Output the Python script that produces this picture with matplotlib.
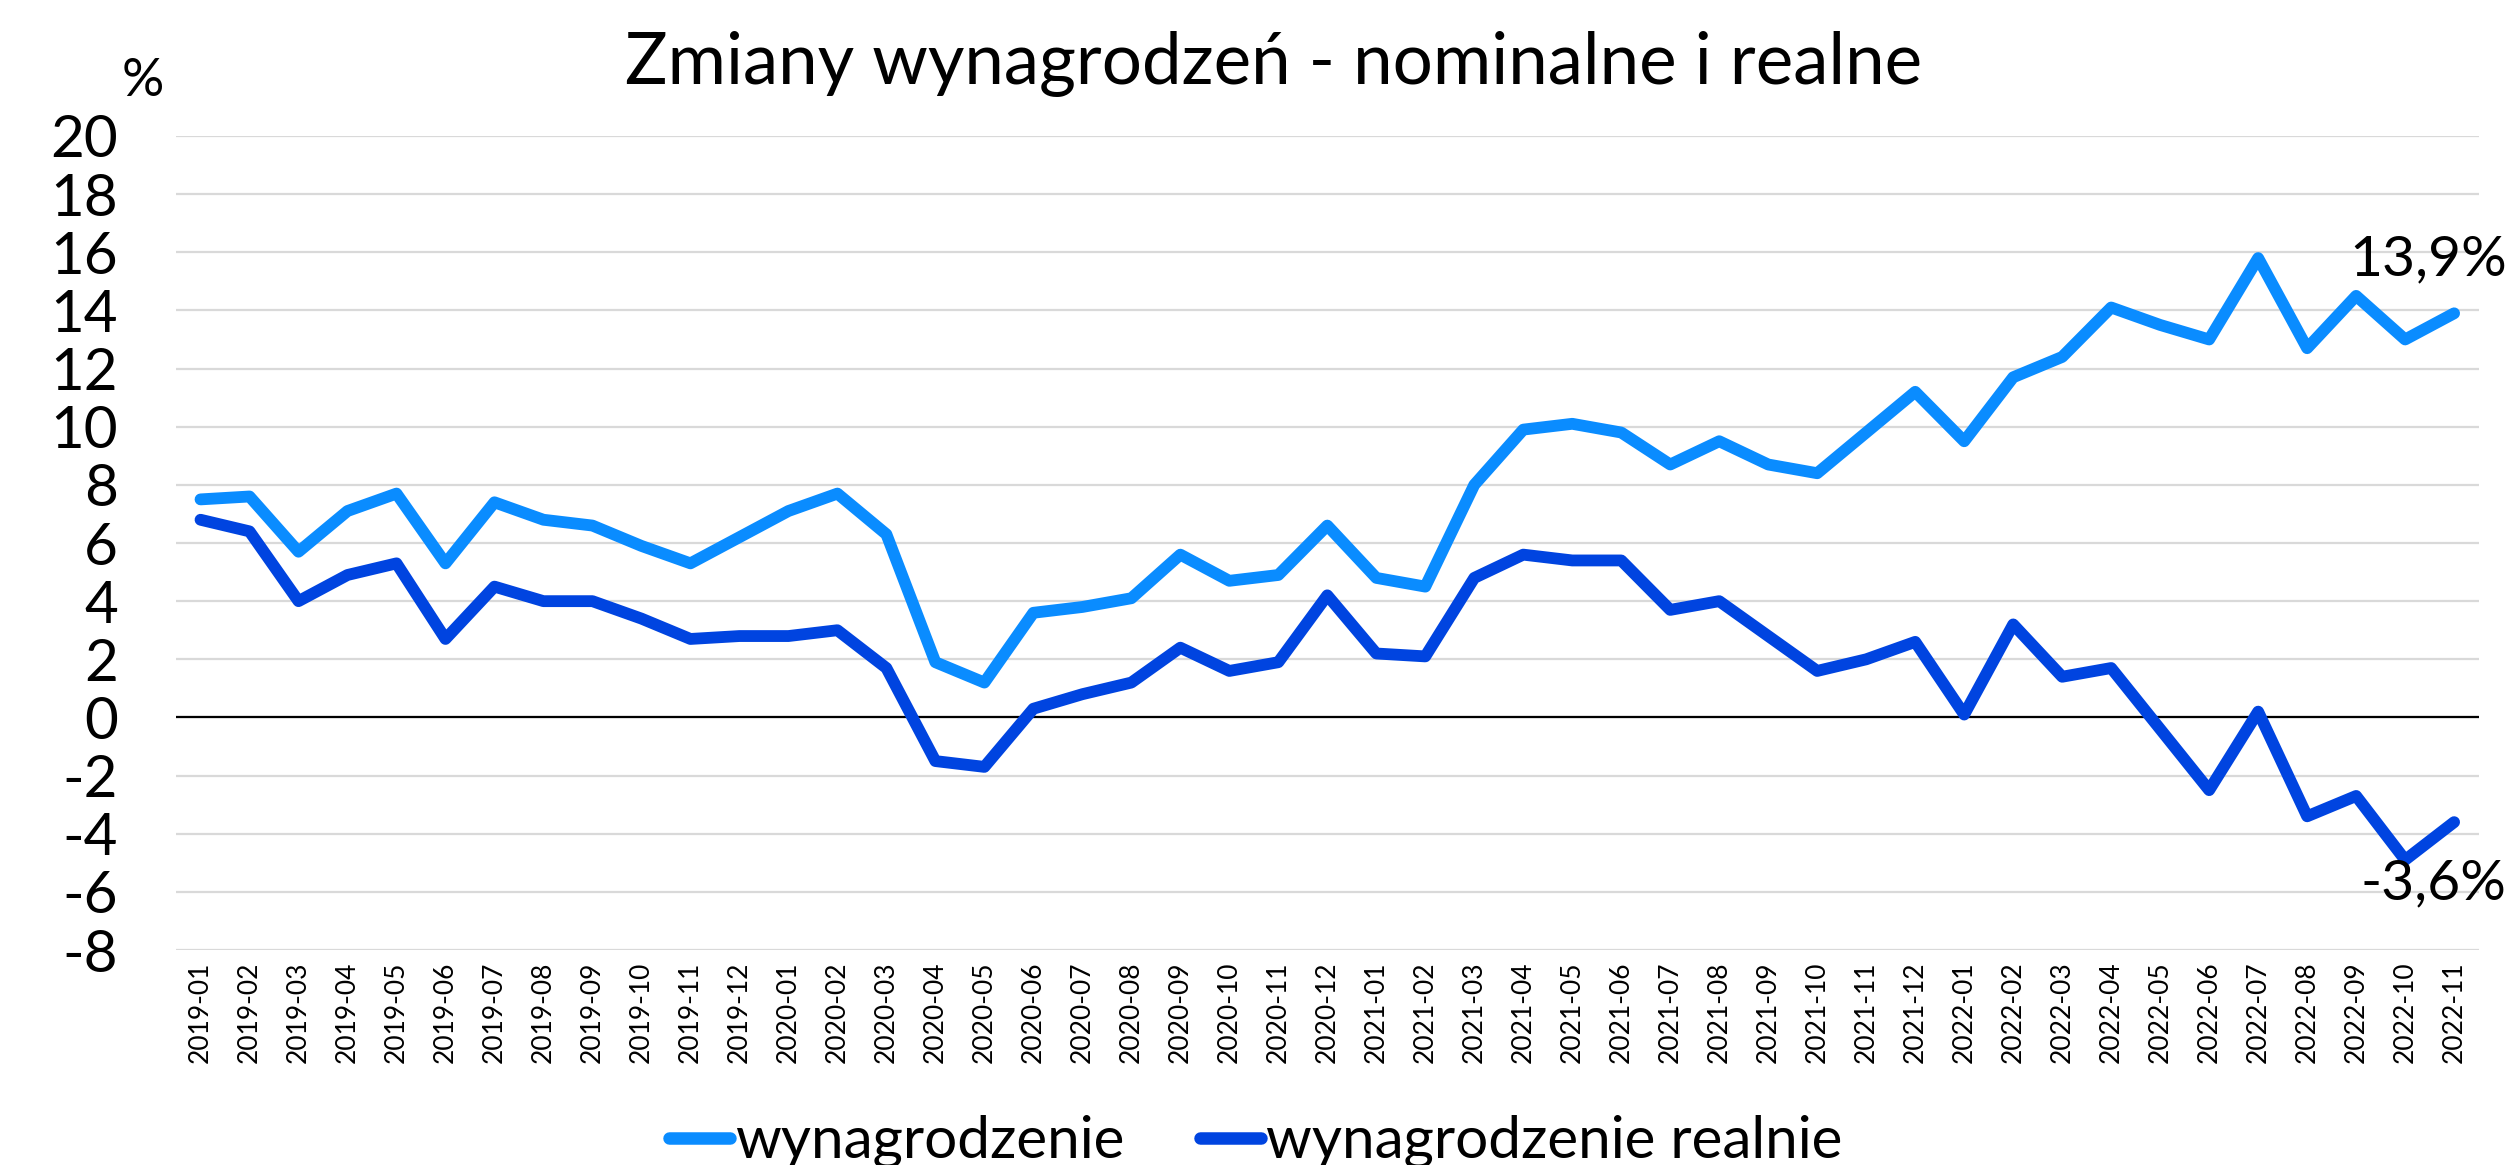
import matplotlib
matplotlib.use("Agg")
import matplotlib.pyplot as plt

# Dane (r/r, %)
MONTHS = [
    "2019-01", "2019-02", "2019-03", "2019-04", "2019-05", "2019-06",
    "2019-07", "2019-08", "2019-09", "2019-10", "2019-11", "2019-12",
    "2020-01", "2020-02", "2020-03", "2020-04", "2020-05", "2020-06",
    "2020-07", "2020-08", "2020-09", "2020-10", "2020-11", "2020-12",
    "2021-01", "2021-02", "2021-03", "2021-04", "2021-05", "2021-06",
    "2021-07", "2021-08", "2021-09", "2021-10", "2021-11", "2021-12",
    "2022-01", "2022-02", "2022-03", "2022-04", "2022-05", "2022-06",
    "2022-07", "2022-08", "2022-09", "2022-10", "2022-11",
]
NOMINAL = [
    7.5, 7.6, 5.7, 7.1, 7.7, 5.3, 7.4, 6.8, 6.6, 5.9, 5.3, 6.2,
    7.1, 7.7, 6.3, 1.9, 1.2, 3.6, 3.8, 4.1, 5.6, 4.7, 4.9, 6.6,
    4.8, 4.5, 8.0, 9.9, 10.1, 9.8, 8.7, 9.5, 8.7, 8.4, 9.8, 11.2,
    9.5, 11.7, 12.4, 14.1, 13.5, 13.0, 15.8, 12.7, 14.5, 13.0, 13.9,
]
REAL = [
    6.8, 6.4, 4.0, 4.9, 5.3, 2.7, 4.5, 4.0, 4.0, 3.4, 2.7, 2.8,
    2.8, 3.0, 1.7, -1.5, -1.7, 0.3, 0.8, 1.2, 2.4, 1.6, 1.9, 4.2,
    2.2, 2.1, 4.8, 5.6, 5.4, 5.4, 3.7, 4.0, 2.8, 1.6, 2.0, 2.6,
    0.1, 3.2, 1.4, 1.7, -0.4, -2.5, 0.2, -3.4, -2.7, -4.9, -3.6,
]
Y_TICKS = list(range(-8, 21, 2))

C_NOM = "#0A8CFF"
C_REAL = "#0044E0"

plt.rcParams["font.family"] = ["Lato", "DejaVu Sans"]

fig = plt.figure(figsize=(25.11, 11.65), dpi=100)
ax = fig.add_axes([0.0701, 0.1845, 0.917, 0.6988])

x = list(range(len(MONTHS)))
ax.plot(x, NOMINAL, color=C_NOM, lw=8.5, solid_capstyle="round",
        solid_joinstyle="round", label="wynagrodzenie", zorder=3)
ax.plot(x, REAL, color=C_REAL, lw=8.5, solid_capstyle="round",
        solid_joinstyle="round", label="wynagrodzenie realnie", zorder=3)

ax.set_xlim(-0.5, len(MONTHS) - 0.5)
ax.set_ylim(-8, 20)
ax.set_yticks(Y_TICKS)
ax.set_yticklabels([str(v) for v in Y_TICKS], fontsize=42)
ax.set_xticks(x)
ax.set_xticklabels(MONTHS, rotation=90, fontsize=19)
ax.tick_params(length=0, pad=8)
ax.tick_params(axis="y", pad=42)

ax.grid(axis="y", color="#D9D9D9", lw=1.6)
ax.set_axisbelow(True)
ax.axhline(0, color="black", lw=1.6, zorder=2)
for s in ax.spines.values():
    s.set_visible(False)

# etykiety ostatnich wartości
ax.annotate(f"{NOMINAL[-1]:.1f}%".replace(".", ","), (x[-1], NOMINAL[-1]),
            xytext=(-26, 53), textcoords="offset pixels",
            ha="center", va="center", fontsize=41)
ax.annotate(f"{REAL[-1]:.1f}%".replace(".", ","), (x[-1], REAL[-1]),
            xytext=(-21, -62), textcoords="offset pixels",
            ha="center", va="center", fontsize=41)

fig.text(0.507, 0.945, "Zmiany wynagrodzeń - nominalne i realne",
         ha="center", va="center", fontsize=51)
fig.text(0.057, 0.93, "%", ha="center", va="center", fontsize=38)

leg = ax.legend(loc="center", bbox_to_anchor=(0.5, 0.02), bbox_transform=fig.transFigure,
                ncol=2, frameon=False, fontsize=42, handlelength=1.05,
                handletextpad=0.08, columnspacing=1.3)
for h in leg.get_lines():
    h.set_linewidth(9)

fig.savefig("out.png", dpi=100)
